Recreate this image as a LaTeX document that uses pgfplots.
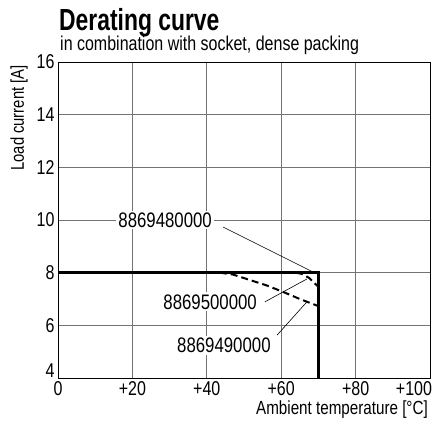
\documentclass[border=0pt]{standalone}
\usepackage{fontspec}
\setmainfont{Liberation Sans}[FakeStretch=0.8]
\newfontfamily\titlefont{Liberation Sans}[FakeStretch=0.75]
\usepackage{pgfplots}
\pgfplotsset{compat=1.18}
\begin{document}
\begin{tikzpicture}[x=1pt,y=1pt]
\useasboundingbox (-58,-47) rectangle (376,378);
\begin{axis}[
  at={(0,0)}, anchor=south west,
  scale only axis, width=372pt, height=316pt,
  xmin=0, xmax=100, ymin=4, ymax=16,
  xtick={0,20,40,60,80,100},
  xticklabels={0,+20,+40,+60,+80,\hspace*{-32pt}+100},
  ytick={4,6,8,10,12,14,16},
  yticklabels={\raisebox{14pt}{4},6,8,10,12,14,16},
  major tick length=0pt,
  grid=major,
  major grid style={black!55, line width=0.8pt},
  axis line style={black, line width=0.9pt},
  /pgf/number format/assume math mode=true,
  tick label style={font=\fontsize{20}{22}\selectfont},
  xticklabel style={inner sep=0pt, yshift=-3.5pt},
  clip=false,
]
\addplot[black, line width=2.4pt] coordinates {(0,8) (70,8) (70,4)};
\addplot[black, line width=2pt, dash pattern=on 7pt off 4pt] coordinates {(43.5,8) (47,7.93) (51.6,7.72) (56,7.52) (60.5,7.27) (65,7.0) (70,6.73)};
\addplot[black, line width=2pt, dash pattern=on 7pt off 4pt] coordinates {(64,8) (65.6,7.95) (67.5,7.8) (70,7.46)};
\draw[black, line width=0.6pt] (axis cs:44.4,9.73) -- (axis cs:68.5,8.03);
\draw[black, line width=0.6pt] (axis cs:55.6,6.89) -- (axis cs:66.9,7.76);
\draw[black, line width=0.6pt] (axis cs:58.9,5.63) -- (axis cs:66.9,6.89);
\node[fill=white, inner sep=2pt, font=\fontsize{21}{24}\selectfont] at (axis cs:28.8,10.0) {8869480000};
\node[fill=white, inner sep=2pt, font=\fontsize{21}{24}\selectfont] at (axis cs:40.9,6.89) {8869500000};
\node[fill=white, inner sep=2pt, font=\fontsize{21}{24}\selectfont] at (axis cs:44.6,5.25) {8869490000};
\end{axis}
\node[anchor=base west, inner sep=0pt, font=\titlefont\fontsize{30.5}{32}\selectfont\bfseries] at (1,347) {Derating curve};
\node[anchor=base west, inner sep=0pt, font=\fontsize{20}{23}\selectfont] at (2,327) {in combination with socket, dense packing};
\node[anchor=base east, inner sep=0pt, font=\fontsize{19}{22}\selectfont] at (370,-37) {Ambient temperature [°C]};
\node[rotate=90, inner sep=0pt, font=\fontsize{18.5}{20}\selectfont] at (-39,260) {Load current [A]};
\end{tikzpicture}
\end{document}
